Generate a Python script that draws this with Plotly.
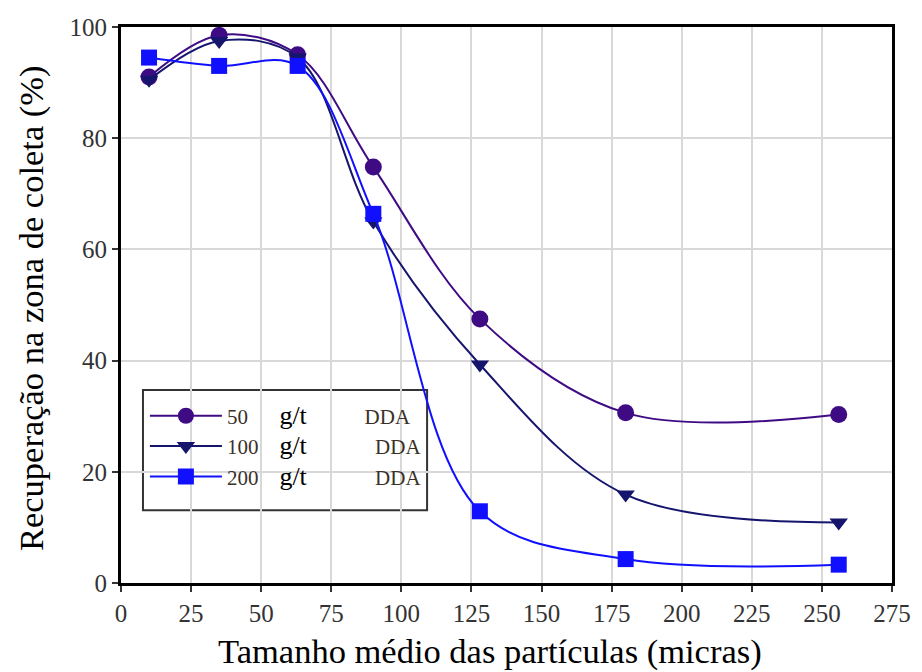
import plotly.graph_objects as go

sizes = [10, 35, 63, 90, 128, 180, 256]
rec_50 = [91.0, 98.5, 95.0, 74.8, 47.5, 30.6, 30.3]
rec_100 = [90.5, 97.5, 94.5, 65.0, 39.3, 15.9, 10.9]
rec_200 = [94.5, 93.0, 93.0, 66.4, 12.9, 4.3, 3.3]

series_labels = ["50", "100", "200"]
x_ticks = [0, 25, 50, 75, 100, 125, 150, 175, 200, 225, 250, 275]
y_ticks = [0, 20, 40, 60, 80, 100]
x_title = "Tamanho médio das partículas (micras)"
y_title = "Recuperação na zona de coleta (%)"

colors = ["#3f0b85", "#16156e", "#1010ff"]
symbols = ["circle", "triangle-down", "square"]
marker_sizes = [17, 16, 16]
data = [rec_50, rec_100, rec_200]

NB = "\u00a0"
gaps_after = [11, 13, 13]

fig = go.Figure()
for lab, vals, col, sym, ms, gap in zip(series_labels, data, colors, symbols,
                                        marker_sizes, gaps_after):
    pad = NB * (4 if len(lab) == 3 else 6)
    name = (f"<span style='color:#3a3028'>{lab}</span>{pad}"
            f"<span style='font-size:26px;color:black'>g/t</span>"
            + NB * gap + "<span style='color:#3a3028'>DDA</span>")
    fig.add_trace(go.Scatter(
        x=sizes, y=vals, name=name, mode="lines+markers",
        line=dict(color=col, width=2, shape="spline", smoothing=1.0),
        marker=dict(symbol=sym, size=ms, color=col),
    ))

# legend frame (paper coordinates of the plot area)
fig.add_shape(type="rect", xref="paper", yref="paper",
              x0=0.0285, x1=0.397, y0=0.131, y1=0.347,
              line=dict(color="#333333", width=2), fillcolor="white",
              layer="between")

fig.add_annotation(text=x_title, xref="paper", yref="paper",
                   x=0.4786, y=-0.124, xanchor="center", yanchor="middle",
                   showarrow=False,
                   font=dict(family="Liberation Serif", size=34.5, color="black"))
fig.add_annotation(text=y_title, xref="paper", yref="paper",
                   x=-0.1167, y=0.4946, xanchor="center", yanchor="middle",
                   textangle=-90, showarrow=False,
                   font=dict(family="Liberation Serif", size=34.5, color="black"))

fig.update_layout(
    width=922, height=672,
    margin=dict(l=121, r=30, t=27, b=89),
    paper_bgcolor="white", plot_bgcolor="white",
    font=dict(family="Liberation Serif", color="#333333", size=22),
    showlegend=True,
    legend=dict(
        x=0.031, y=0.337, xanchor="left", yanchor="top",
        bgcolor="rgba(0,0,0,0)", borderwidth=0,
        font=dict(family="Liberation Serif", size=21, color="#3a3028"),
        itemwidth=72, tracegroupgap=0,
    ),
    xaxis=dict(
        range=[0, 275], tickvals=x_ticks, ticktext=[str(v) for v in x_ticks],
        showgrid=True, gridcolor="#d8d8d8", gridwidth=1.5,
        showline=True, linecolor="black", linewidth=3, mirror=True,
        ticks="outside", ticklen=6, tickcolor="#333333", tickwidth=2,
        zeroline=False,
        tickfont=dict(family="Liberation Serif", size=25, color="#333333"),
    ),
    yaxis=dict(
        range=[0, 100], tickvals=y_ticks, ticktext=[str(v) for v in y_ticks],
        showgrid=True, gridcolor="#d8d8d8", gridwidth=1.5,
        showline=True, linecolor="black", linewidth=3, mirror=True,
        ticks="outside", ticklen=6, tickcolor="#333333", tickwidth=2,
        zeroline=False,
        tickfont=dict(family="Liberation Serif", size=25, color="#333333"),
    ),
)

fig.write_html("out.html")
